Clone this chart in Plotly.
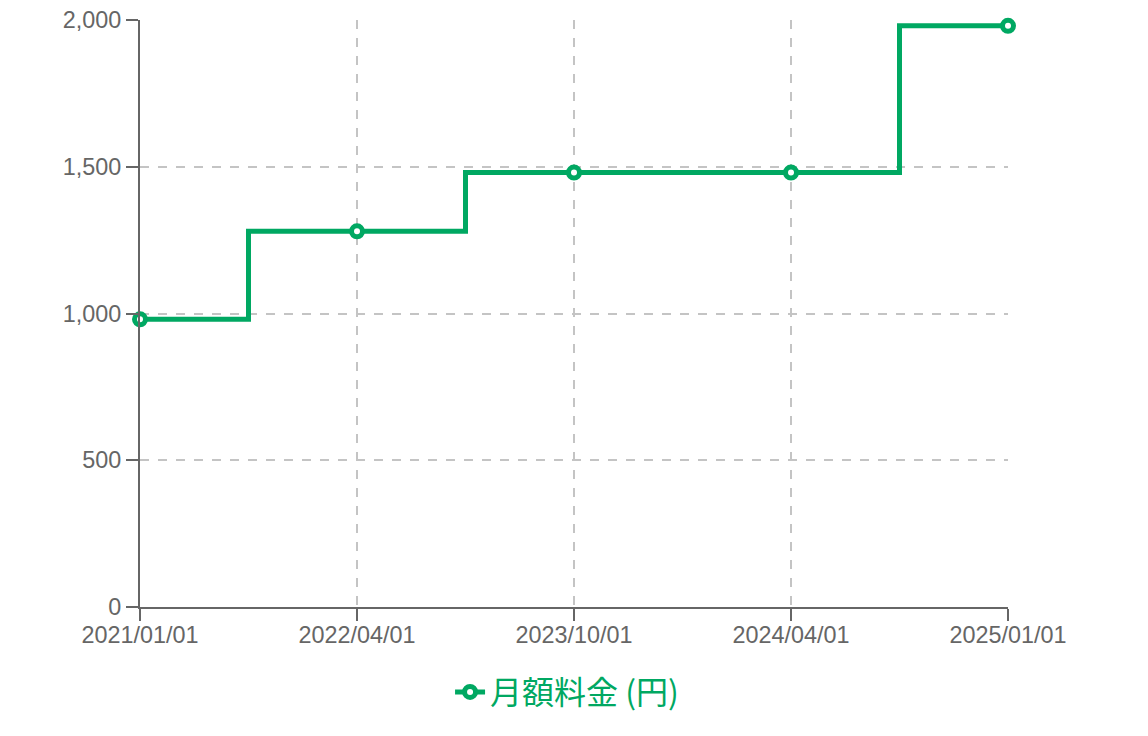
import plotly.graph_objects as go

dates = ["2021/01/01", "2022/04/01", "2023/10/01", "2024/04/01", "2025/01/01"]
prices = [980, 1280, 1480, 1480, 1980]
y_ticks = [0, 500, 1000, 1500, 2000]

green = "#00a862"
axis_grey = "#666666"

fig = go.Figure()
fig.add_trace(go.Scatter(
    x=dates, y=prices, name="月額料金 (円)",
    mode="lines+markers", line=dict(color=green, width=5, shape="hvh"),
    marker=dict(size=11, color="white", line=dict(color=green, width=5)),
    cliponaxis=False,
))

fig.update_xaxes(type="category", range=[0, 4], showgrid=True, gridcolor="#c4c4c4",
                 griddash="dash", gridwidth=1.5, showline=True, linecolor=axis_grey, linewidth=2,
                 ticks="outside", ticklen=12, tickwidth=2, tickcolor=axis_grey,
                 tickfont=dict(size=23.4, color=axis_grey), zeroline=False,
                 ticklabeloverflow="allow", ticklabelstandoff=-6)
fig.update_yaxes(range=[0, 2000], tickvals=y_ticks, tickformat=",", showgrid=True,
                 gridcolor="#c4c4c4", griddash="dash", gridwidth=1.5, showline=True,
                 linecolor=axis_grey, linewidth=2, ticks="outside", ticklen=12, tickwidth=2,
                 tickcolor=axis_grey, tickfont=dict(size=23.4, color=axis_grey), zeroline=False,
                 ticklabeloverflow="allow")

fig.update_layout(
    width=1148, height=736,
    margin=dict(l=132, r=148, t=12, b=137, autoexpand=False),
    plot_bgcolor="white", paper_bgcolor="white",
    font=dict(family="Liberation Sans, Noto Sans CJK JP, sans-serif"),
    showlegend=True,
    legend=dict(orientation="h", x=0.492, xanchor="center", y=-0.145, yanchor="middle",
                font=dict(size=32, color=green, family="Noto Sans CJK JP, sans-serif")),
)

fig.write_html("out.html")
